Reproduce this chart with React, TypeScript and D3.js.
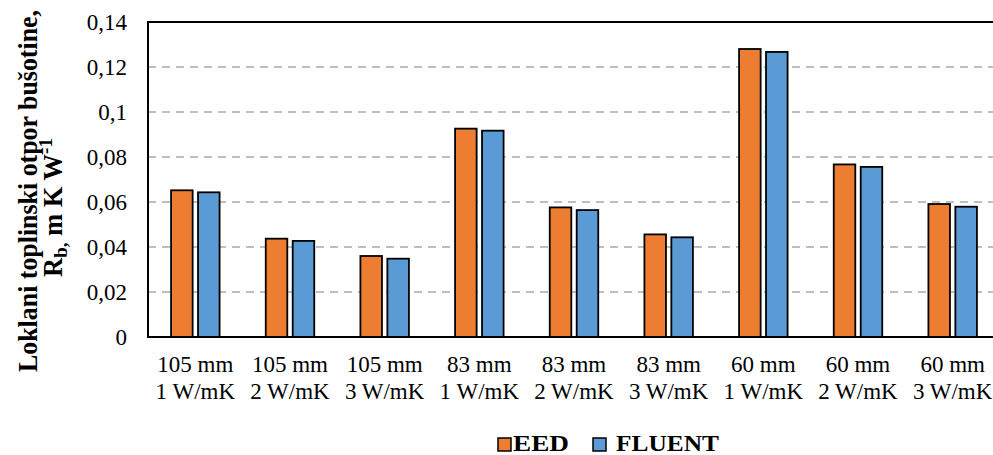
import React from "react";
import * as d3 from "d3";

const categoriesTop = ["105 mm", "105 mm", "105 mm", "83 mm", "83 mm", "83 mm", "60 mm", "60 mm", "60 mm"];
const categoriesBottom = ["1 W/mK", "2 W/mK", "3 W/mK", "1 W/mK", "2 W/mK", "3 W/mK", "1 W/mK", "2 W/mK", "3 W/mK"];
const seriesNames = ["EED", "FLUENT"];
const eedValues = [0.0652, 0.0437, 0.036, 0.0926, 0.0576, 0.0456, 0.128, 0.0767, 0.0591];
const fluentValues = [0.0643, 0.0427, 0.0348, 0.0917, 0.0564, 0.0443, 0.1267, 0.0756, 0.0579];
const yTicks = [0, 0.02, 0.04, 0.06, 0.08, 0.1, 0.12, 0.14];
const seriesColors = ["#ED7D31", "#5B9BD5"];

const W = 993;
const H = 455;
const plot = { left: 148, top: 22, right: 1000, bottom: 337 };
const FONT = "'Liberation Serif', 'Times New Roman', serif";

export default function App() {
  const ids = categoriesTop.map((_, i) => String(i));
  const x = d3.scaleBand<string>().domain(ids).range([plot.left, plot.right]).padding(0);
  const y = d3.scaleLinear().domain([0, 0.14]).range([plot.bottom, plot.top]);
  const bw = x.bandwidth();
  const inner = d3
    .scaleBand<string>()
    .domain(seriesNames)
    .range([bw / 2 - 24.25, bw / 2 + 24.25])
    .paddingInner(0.2)
    .paddingOuter(0);
  const seriesValues = [eedValues, fluentValues];
  const fmt = (v: number) => String(+v.toFixed(2)).replace(".", ",");

  return (
    <svg
      width={W}
      height={H}
      style={{ position: "absolute", left: 0, top: 0, display: "block", background: "#fff" }}
      fontFamily={FONT}
    >
      {/* gridlines */}
      {yTicks.slice(1).map((t) => (
        <line
          key={t}
          x1={plot.left}
          x2={plot.right}
          y1={y(t)}
          y2={y(t)}
          stroke="#BFBFBF"
          strokeWidth={2}
          strokeDasharray="8,6"
        />
      ))}
      {/* bars */}
      {seriesNames.map((s, si) =>
        seriesValues[si].map((v, i) => (
          <rect
            key={s + i}
            x={(x(ids[i]) ?? 0) + (inner(s) ?? 0)}
            y={y(v)}
            width={inner.bandwidth()}
            height={y(0) - y(v)}
            fill={seriesColors[si]}
            stroke="#000"
            strokeWidth={1.8}
          />
        ))
      )}
      {/* plot frame */}
      <rect
        x={plot.left}
        y={plot.top}
        width={plot.right - plot.left}
        height={plot.bottom - plot.top}
        fill="none"
        stroke="#000"
        strokeWidth={2}
      />
      {/* y tick labels */}
      {yTicks.map((t) => (
        <text key={t} x={127} y={y(t) + 8} textAnchor="end" fontSize={23} fill="#000">
          {fmt(t)}
        </text>
      ))}
      {/* x category labels */}
      {ids.map((id, i) => (
        <g key={id}>
          <text x={(x(id) ?? 0) + bw / 2} y={372} textAnchor="middle" fontSize={23} fill="#000">
            {categoriesTop[i]}
          </text>
          <text x={(x(id) ?? 0) + bw / 2} y={399} textAnchor="middle" fontSize={23} fill="#000">
            {categoriesBottom[i]}
          </text>
        </g>
      ))}
      {/* y axis title */}
      <text
        transform="translate(37,372) rotate(-90)"
        textAnchor="start"
        fontSize={26.5}
        fontWeight="bold"
        fill="#000"
        textLength={362}
        lengthAdjust="spacingAndGlyphs"
      >
        Loklani toplinski otpor bušotine,
      </text>
      <text
        transform="translate(62,277) rotate(-90)"
        textAnchor="start"
        fontSize={26.5}
        fontWeight="bold"
        fill="#000"
      >
        R<tspan fontSize={19} dy={5}>b,</tspan>
        <tspan dy={-5}> m K W</tspan>
        <tspan fontSize={19} dy={-10}>-1</tspan>
      </text>
      {/* legend */}
      {seriesNames.map((s, si) => {
        const sx = [498, 593][si];
        const tx = [513, 616][si];
        const tl = [56, 103][si];
        return (
          <g key={s}>
            <rect x={sx} y={438} width={13} height={13} fill={seriesColors[si]} stroke="#000" strokeWidth={1.5} />
            <text x={tx} y={451} fontSize={23} fontWeight="bold" fill="#000" textLength={tl} lengthAdjust="spacingAndGlyphs">
              {s}
            </text>
          </g>
        );
      })}
    </svg>
  );
}
